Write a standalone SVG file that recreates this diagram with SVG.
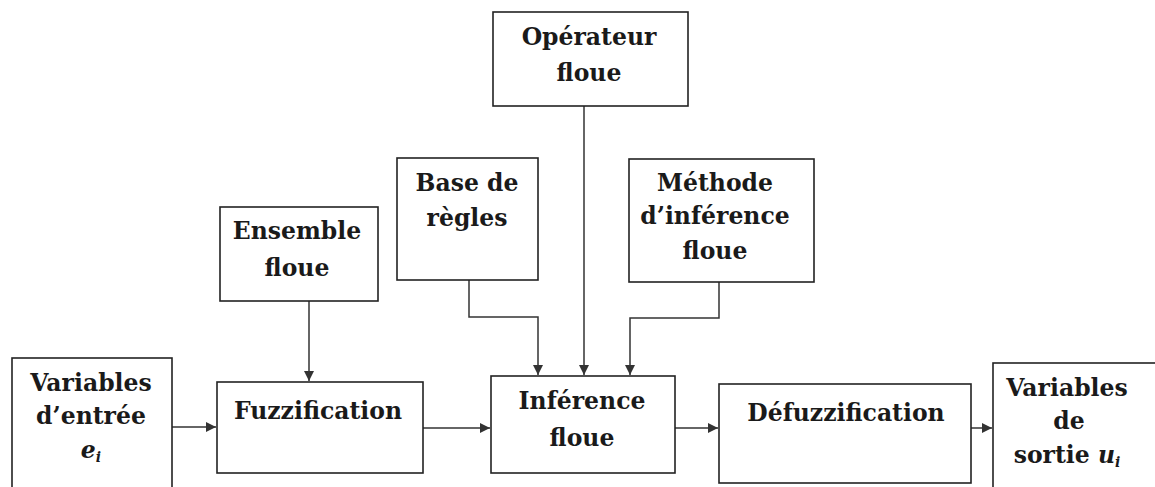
<svg xmlns="http://www.w3.org/2000/svg" width="1155" height="487" viewBox="0 0 1155 487">
<defs>
<style>
.box{fill:#fff;stroke:#222;stroke-width:1.6}
.t{font-family:"DejaVu Serif","Liberation Serif",serif;font-weight:bold;font-size:23.5px;fill:#1a1a1a;text-anchor:middle}
.it{font-style:italic}
.sub{font-size:14px}
.c{fill:none;stroke:#333;stroke-width:1.5}
</style>
<marker id="ah" viewBox="0 0 10 10" refX="10" refY="5" markerWidth="12" markerHeight="10" markerUnits="userSpaceOnUse" orient="auto">
<path d="M0,0 L10,5 L0,10 z" fill="#333"/>
</marker>
</defs>
<rect width="1155" height="487" fill="#fff"/>
<g id="connectors">
<path class="c" d="M309,301 V381" marker-end="url(#ah)"/>
<path class="c" d="M469,280 V317 H538 V375" marker-end="url(#ah)"/>
<path class="c" d="M584,106 V375" marker-end="url(#ah)"/>
<path class="c" d="M719,282 V318 H630 V375" marker-end="url(#ah)"/>
<path class="c" d="M172,427 H216" marker-end="url(#ah)"/>
<path class="c" d="M423,428 H490" marker-end="url(#ah)"/>
<path class="c" d="M675,428 H718" marker-end="url(#ah)"/>
<path class="c" d="M971,428 H992" marker-end="url(#ah)"/>
</g>
<g id="operateur">
<rect class="box" x="493" y="12" width="195" height="94"/>
<text class="t" x="589" y="45">Opérateur</text>
<text class="t" x="589" y="81">floue</text>
</g>
<g id="base-regles">
<rect class="box" x="397" y="158" width="141" height="122"/>
<text class="t" x="467" y="191">Base de</text>
<text class="t" x="467" y="226">règles</text>
</g>
<g id="methode">
<rect class="box" x="629" y="159" width="185" height="123"/>
<text class="t" x="715" y="191">Méthode</text>
<text class="t" x="715" y="224">d’inférence</text>
<text class="t" x="715" y="259">floue</text>
</g>
<g id="ensemble">
<rect class="box" x="220" y="207" width="158" height="94"/>
<text class="t" x="297" y="239">Ensemble</text>
<text class="t" x="297" y="276">floue</text>
</g>
<g id="variables-entree">
<rect class="box" x="12" y="358" width="160" height="140"/>
<text class="t" x="91" y="391">Variables</text>
<text class="t" x="91" y="424">d’entrée</text>
<text class="t" x="91" y="458"><tspan class="it">e</tspan><tspan class="it sub" dy="4">i</tspan></text>
</g>
<g id="fuzzification">
<rect class="box" x="217" y="382" width="206" height="91"/>
<text class="t" x="318" y="419">Fuzzification</text>
</g>
<g id="inference">
<rect class="box" x="491" y="376" width="184" height="97"/>
<text class="t" x="582" y="409">Inférence</text>
<text class="t" x="582" y="446">floue</text>
</g>
<g id="defuzzification">
<rect class="box" x="719" y="384" width="252" height="99"/>
<text class="t" x="846" y="421">Défuzzification</text>
</g>
<g id="variables-sortie">
<rect class="box" x="993" y="363" width="170" height="140"/>
<text class="t" x="1067" y="396">Variables</text>
<text class="t" x="1069" y="429">de</text>
<text class="t" x="1067" y="463">sortie <tspan class="it">u</tspan><tspan class="it sub" dy="4">i</tspan></text>
</g>
</svg>
